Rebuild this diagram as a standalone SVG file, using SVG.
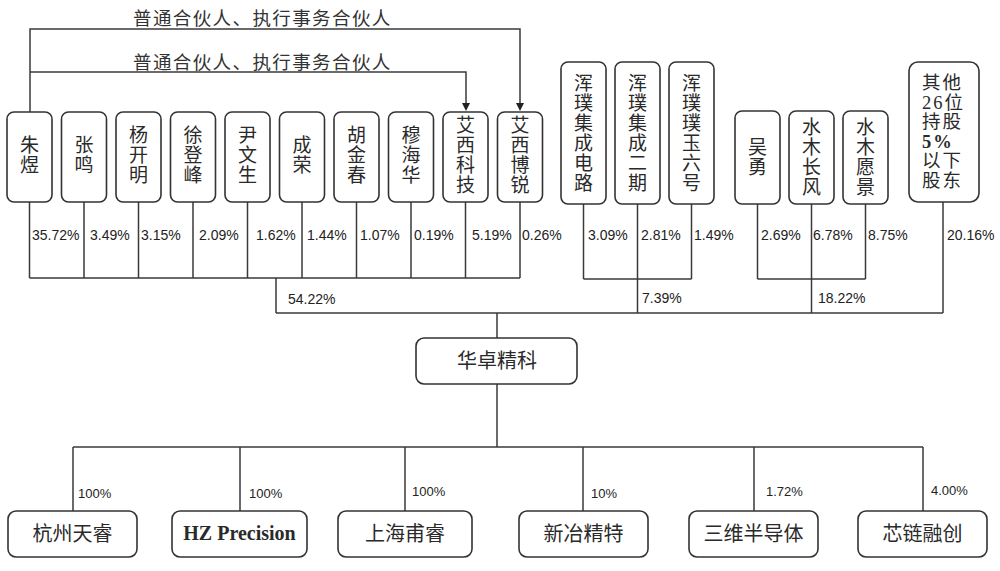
<svg xmlns="http://www.w3.org/2000/svg" width="1000" height="571" viewBox="0 0 1000 571">
<style>
.bg{fill:#ffffff}
.box{fill:#ffffff;stroke:#333;stroke-width:1.6}
.ln{fill:none;stroke:#3a3a3a;stroke-width:1.5}
.ah{fill:#222;stroke:none}
.cj{font-family:"Noto Sans CJK SC","Noto Sans",sans-serif;font-size:19px;fill:#2a2a2a;text-anchor:middle;writing-mode:vertical-rl;letter-spacing:1px}
.sf{font-family:"Liberation Serif","Noto Sans CJK SC",serif;font-size:20px;fill:#2a2a2a}
.ot{font-family:"Liberation Serif","Noto Sans CJK SC",serif;font-size:18.5px;fill:#2a2a2a;letter-spacing:2px}
.pc{font-family:"Liberation Sans",Arial,sans-serif;font-size:14px;fill:#222}
.pb{font-family:"Liberation Sans",Arial,sans-serif;font-size:13px;fill:#222}
.lb{font-family:"Noto Sans CJK SC",sans-serif;font-size:18.5px;fill:#333;letter-spacing:1.4px}
.bt{font-family:"Noto Sans CJK SC",sans-serif;font-size:20px;fill:#2a2a2a;text-anchor:middle}
</style>
<rect class="bg" x="0" y="0" width="1000" height="571"/>

<g id="connectors">
<path class="ln" d="M30,112 V29 H520 V104"/>
<path class="ln" d="M30,72 H466 V104"/>
<polygon class="ah" points="516,103 524,103 520,111"/>
<polygon class="ah" points="462,103 470,103 466,111"/>
<path class="ln" d="M29.5,202 V278 M84,202 V278 M138.5,202 V278 M193,202 V278 M247.5,202 V278 M302,202 V278 M356.5,202 V278 M411,202 V278 M465.5,202 V278 M520,202 V278 M29.5,278 H520 M276,278 V313"/>
<path class="ln" d="M583.5,204 V279 M637.5,204 V279 M691.5,204 V279 M583.5,279 H691.5 M637.5,279 V313"/>
<path class="ln" d="M757.5,204 V279 M811.5,204 V279 M865.5,204 V279 M757.5,279 H865.5 M811.5,279 V313"/>
<path class="ln" d="M943,202 V313 M276,313 H943"/>
<path class="ln" d="M497,313 V338 M497,384 V447 M73,447 H923"/>
<path class="ln" d="M73,447 V511 M240,447 V511 M405,447 V511 M583,447 V511 M754,447 V511 M923,447 V511"/>
<text class="lb" x="133" y="25">普通合伙人、执行事务合伙人</text>
<text class="lb" x="133" y="69">普通合伙人、执行事务合伙人</text>
<text class="pc" x="32" y="240">35.72%</text>
<text class="pc" x="90" y="240">3.49%</text>
<text class="pc" x="141" y="240">3.15%</text>
<text class="pc" x="199" y="240">2.09%</text>
<text class="pc" x="256" y="240">1.62%</text>
<text class="pc" x="307" y="240">1.44%</text>
<text class="pc" x="360" y="240">1.07%</text>
<text class="pc" x="414" y="240">0.19%</text>
<text class="pc" x="472" y="240">5.19%</text>
<text class="pc" x="522" y="240">0.26%</text>
<text class="pc" x="288" y="304">54.22%</text>
<text class="pc" x="588" y="240">3.09%</text>
<text class="pc" x="641" y="240">2.81%</text>
<text class="pc" x="694" y="240">1.49%</text>
<text class="pc" x="642" y="303">7.39%</text>
<text class="pc" x="761" y="240">2.69%</text>
<text class="pc" x="813" y="240">6.78%</text>
<text class="pc" x="868" y="240">8.75%</text>
<text class="pc" x="818" y="303">18.22%</text>
<text class="pc" x="947" y="240">20.16%</text>
<text class="pb" x="78" y="498">100%</text>
<text class="pb" x="249" y="498">100%</text>
<text class="pb" x="412" y="496">100%</text>
<text class="pb" x="591" y="498">10%</text>
<text class="pb" x="766" y="496">1.72%</text>
<text class="pb" x="931" y="495">4.00%</text>
</g>

<g id="n-zhuyu"><rect class="box" x="7" y="112" width="45" height="90" rx="7"/><text class="cj" x="29.5" y="155">朱煜</text></g>
<g id="n-zhangming"><rect class="box" x="61.5" y="112" width="45" height="90" rx="7"/><text class="cj" x="84" y="155">张鸣</text></g>
<g id="n-yangkaiming"><rect class="box" x="116" y="112" width="45" height="90" rx="7"/><text class="cj" x="138.5" y="155">杨开明</text></g>
<g id="n-xudengfeng"><rect class="box" x="170.5" y="112" width="45" height="90" rx="7"/><text class="cj" x="193" y="155">徐登峰</text></g>
<g id="n-yinwensheng"><rect class="box" x="225" y="112" width="45" height="90" rx="7"/><text class="cj" x="247.5" y="155">尹文生</text></g>
<g id="n-chengrong"><rect class="box" x="279.5" y="112" width="45" height="90" rx="7"/><text class="cj" x="302" y="155">成荣</text></g>
<g id="n-hujinchun"><rect class="box" x="334" y="112" width="45" height="90" rx="7"/><text class="cj" x="356.5" y="155">胡金春</text></g>
<g id="n-muhaihua"><rect class="box" x="388.5" y="112" width="45" height="90" rx="7"/><text class="cj" x="411" y="155">穆海华</text></g>
<g id="n-aixikeji"><rect class="box" x="443" y="112" width="45" height="90" rx="7"/><text class="cj" x="465.5" y="155">艾西科技</text></g>
<g id="n-aixiborui"><rect class="box" x="497.5" y="112" width="45" height="90" rx="7"/><text class="cj" x="520" y="155">艾西博锐</text></g>

<g id="n-hunpu1"><rect class="box" x="561" y="62" width="45" height="142" rx="7"/><text class="cj" x="583.5" y="133">浑璞集成电路</text></g>
<g id="n-hunpu2"><rect class="box" x="615" y="62" width="45" height="142" rx="7"/><text class="cj" x="637.5" y="133">浑璞集成二期</text></g>
<g id="n-hunpu3"><rect class="box" x="669" y="62" width="45" height="142" rx="7"/><text class="cj" x="691.5" y="133">浑璞璞玉六号</text></g>

<g id="n-wuyong"><rect class="box" x="735" y="111" width="45" height="93" rx="7"/><text class="cj" x="757.5" y="157">吴勇</text></g>
<g id="n-shuimu1"><rect class="box" x="789" y="111" width="45" height="93" rx="7"/><text class="cj" x="811.5" y="157">水木长风</text></g>
<g id="n-shuimu2"><rect class="box" x="843" y="111" width="45" height="93" rx="7"/><text class="cj" x="865.5" y="157">水木愿景</text></g>

<g id="n-others"><rect class="box" x="909" y="62" width="70" height="140" rx="9"/>
<text class="ot" x="922" y="89">其他</text>
<text class="ot" x="922" y="108.5">26位</text>
<text class="ot" x="922" y="128">持股</text>
<text class="ot" x="922" y="147.5" font-weight="bold">5%</text>
<text class="ot" x="922" y="167">以下</text>
<text class="ot" x="922" y="186.5">股东</text>
</g>

<g id="n-huazhuo"><rect class="box" x="416" y="338" width="161" height="46" rx="8"/><text class="bt" x="497" y="368">华卓精科</text></g>

<g id="n-hangzhou"><rect class="box" x="8" y="511" width="129" height="46" rx="8"/><text class="bt" x="72.5" y="541">杭州天睿</text></g>
<g id="n-hz"><rect class="box" x="172" y="511" width="135" height="46" rx="8"/><text class="sf" x="239.5" y="540" text-anchor="middle" font-weight="bold" font-size="19">HZ Precision</text></g>
<g id="n-shanghai"><rect class="box" x="338" y="511" width="134" height="46" rx="8"/><text class="bt" x="405" y="541">上海甫睿</text></g>
<g id="n-xinye"><rect class="box" x="519" y="511" width="129" height="46" rx="8"/><text class="bt" x="583.5" y="541">新冶精特</text></g>
<g id="n-sanwei"><rect class="box" x="689" y="511" width="129" height="46" rx="8"/><text class="bt" x="753.5" y="541">三维半导体</text></g>
<g id="n-xinlian"><rect class="box" x="858" y="511" width="129" height="46" rx="8"/><text class="bt" x="922.5" y="541">芯链融创</text></g>
</svg>
